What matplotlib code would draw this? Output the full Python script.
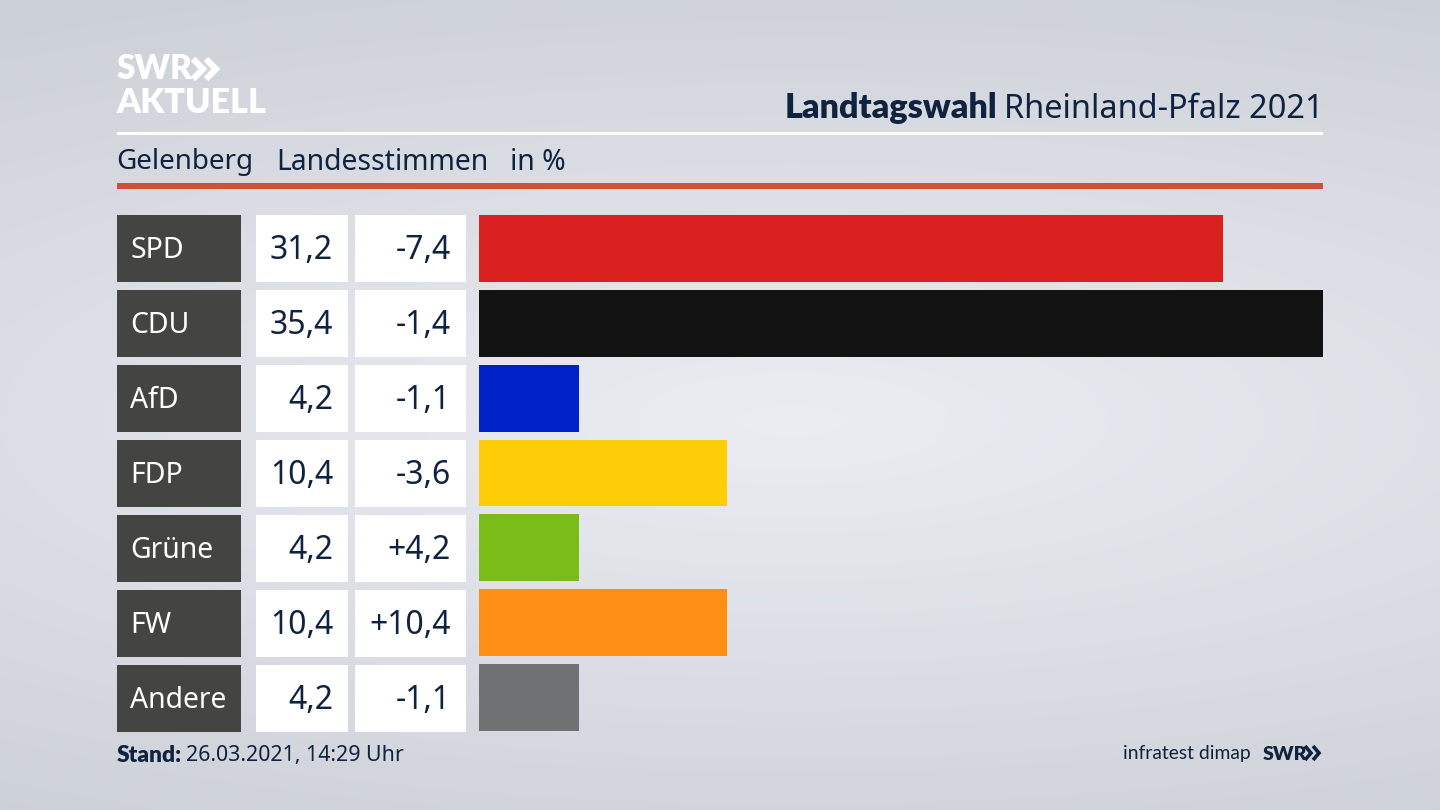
import numpy as np
import matplotlib
matplotlib.use("Agg")
import matplotlib.pyplot as plt
from matplotlib.patches import Rectangle

parties = ["SPD", "CDU", "AfD", "FDP", "Grüne", "FW", "Andere"]
shares = [31.2, 35.4, 4.2, 10.4, 4.2, 10.4, 4.2]
changes = ["-7,4", "-1,4", "-1,1", "-3,6", "+4,2", "+10,4", "-1,1"]
bar_colors = ["#d9201f", "#121212", "#0021c8", "#ffcd08", "#7abd18", "#ff8f14", "#707173"]

NAVY = "#0f2240"
BOLD = ["Lato", "DejaVu Sans"]
plt.rcParams["font.family"] = ["Noto Sans", "DejaVu Sans"]

W, H = 1440, 810
fig = plt.figure(figsize=(W / 100, H / 100), dpi=100)

# pixel coordinates for the whole frame
bg = fig.add_axes([0, 0, 1, 1])
bg.set_xlim(0, W)
bg.set_ylim(H, 0)
bg.axis("off")

# soft light band through the middle, darker towards the edges
yy, xx = np.mgrid[0:1:162j, 0:1:288j]
d = np.sqrt(((xx - 0.55) / 1.1) ** 2 + ((yy - 0.52) / 0.6) ** 2)
shade = np.clip(1 - d, 0, 1)
c0 = np.array([203, 207, 214]) / 255
c1 = np.array([236, 237, 243]) / 255
img = c0 + (c1 - c0) * shade[..., None]
bg.imshow(img, extent=[0, W, H, 0], aspect="auto", interpolation="bicubic", zorder=0)

# header
bg.text(117, 69, "SWR", color="white", fontsize=24, fontweight="heavy", family=BOLD, va="center", ha="left")
bg.text(116, 103, "AKTUELL", color="white", fontsize=24.6, fontweight="heavy", family=BOLD, va="center", ha="left")
for x0 in (193, 206):
    bg.plot([x0, x0 + 10, x0], [59, 69, 79], color="white", lw=4.5, solid_joinstyle="miter", solid_capstyle="butt")

bg.text(1323, 109, "Rheinland-Pfalz 2021", color=NAVY, fontsize=23.4, va="center", ha="right")
bg.text(997, 108, "Landtagswahl", color=NAVY, fontsize=24.6, fontweight="heavy", family=BOLD, va="center", ha="right")

bg.add_patch(Rectangle((117, 132), 1206, 3, color="white", lw=0))
bg.add_patch(Rectangle((117, 183), 1206, 6, color="#cf5138", lw=0))

bg.text(116, 162, "Gelenberg", color=NAVY, fontsize=20, va="center", ha="left")
bg.text(276, 162, "Landesstimmen", color=NAVY, fontsize=20.4, va="center", ha="left")
bg.text(510, 162, "in %", color=NAVY, fontsize=20.4, va="center", ha="left")

# table cells left of the bars
ROW0, PITCH, ROW_H = 215, 74.95, 67
for i, party in enumerate(parties):
    top = ROW0 + i * PITCH
    mid = top + ROW_H / 2
    bg.add_patch(Rectangle((117, top), 124, ROW_H, color="#444442", lw=0))
    bg.add_patch(Rectangle((255.5, top), 92.5, ROW_H, color="white", lw=0))
    bg.add_patch(Rectangle((354.5, top), 111.5, ROW_H, color="white", lw=0))
    bg.text(130.5, mid + 2, party, color="white", fontsize=20.4, va="center", ha="left")
    bg.text(333, mid + 2, f"{shares[i]:.1f}".replace(".", ","), color=NAVY, fontsize=23, va="center", ha="right")
    bg.text(451, mid + 2, changes[i], color=NAVY, fontsize=23, va="center", ha="right")

# footer
bg.text(117, 755, "Stand:", color=NAVY, fontsize=16.4, fontweight="heavy", family=BOLD, va="center", ha="left")
bg.text(186, 756, "26.03.2021, 14:29 Uhr", color=NAVY, fontsize=15.4, va="center", ha="left")
bg.text(1251, 754, "infratest dimap", color=NAVY, fontsize=13.9, family=BOLD, va="center", ha="right")
bg.text(1263, 754, "SWR", color=NAVY, fontsize=14, fontweight="heavy", family=BOLD, va="center", ha="left")
for x0 in (1305, 1313):
    bg.plot([x0, x0 + 6, x0], [746, 753, 760], color=NAVY, lw=2.6, solid_joinstyle="miter", solid_capstyle="butt")

# bars
ax = fig.add_axes([479 / W, 1 - 731 / H, (1323 - 479) / W, (731 - 215) / H])
ax.patch.set_alpha(0)
ax.barh(range(len(parties)), shares, height=ROW_H / PITCH, color=bar_colors)
ax.set_xlim(0, max(shares))
ax.set_ylim(len(parties) - 1 + ROW_H / PITCH / 2, -ROW_H / PITCH / 2)
ax.axis("off")

fig.savefig("out.png", dpi=100)
